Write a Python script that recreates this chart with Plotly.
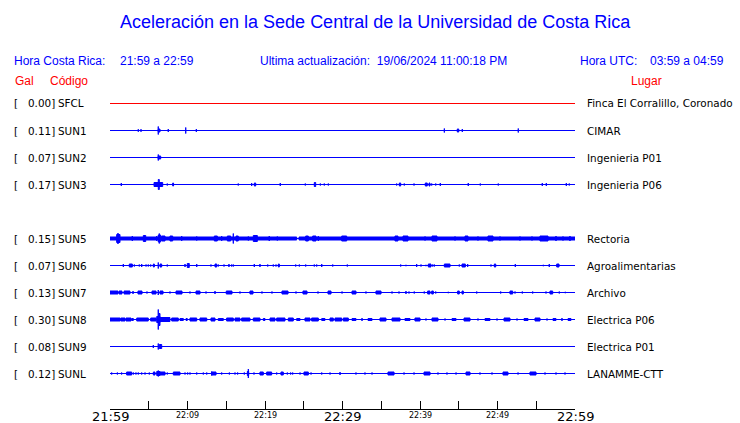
import plotly.graph_objects as go

# ---------------- data ----------------
TITLE = "Aceleración en la Sede Central de la Universidad de Costa Rica"
HORA_CR = "21:59 a 22:59"
HORA_UTC = "03:59 a 04:59"
ACTUALIZACION = "19/06/2024 11:00:18 PM"

# stations in display order (None = empty slot, SUN4 not reporting)
CODES = ["SFCL", "SUN1", "SUN2", "SUN3", None, "SUN5", "SUN6", "SUN7", "SUN8", "SUN9", "SUNL"]
GAL = [0.00, 0.11, 0.07, 0.17, None, 0.15, 0.07, 0.13, 0.30, 0.08, 0.12]
PLACES = ["Finca El Corralillo, Coronado", "CIMAR", "Ingenieria P01", "Ingenieria P06", None,
          "Rectoria", "Agroalimentarias", "Archivo", "Electrica P06", "Electrica P01", "LANAMME-CTT"]

# time axis: minutes after 21:59
TICK_MINUTES = [0, 5, 10, 15, 20, 25, 30, 35, 40, 45, 50, 55, 60]
MAJOR_LABELS = {0: "21:59", 30: "22:29", 60: "22:59"}
MINOR_LABELS = {10: "22:09", 20: "22:19", 40: "22:39", 50: "22:49"}

# events per station: (start minute, end minute, relative amplitude)
SFCL_EV = []
SUN1_EV = [(3.65, 3.65, 1.3), (4.0, 4.0, 1.3), (6.23, 6.23, 4), (6.23, 6.45, 1.5), (7.52, 7.52, 1.5),
           (9.77, 9.77, 3), (11.14, 11.14, 1.5), (43.14, 43.14, 2), (44.81, 45.0, 1.5),
           (45.46, 45.46, 1.5), (52.68, 52.68, 2)]
SUN2_EV = [(6.23, 6.23, 3), (6.23, 6.54, 1.5)]
SUN3_EV = [(1.46, 1.46, 1.5), (5.68, 6.8, 2), (6.23, 6.36, 5), (7.39, 7.39, 1), (8.09, 8.2, 1.5),
           (16.55, 16.55, 1), (18.28, 18.28, 1.5), (18.62, 18.8, 1.5), (21.97, 21.97, 1.5),
           (25.2, 25.2, 1), (26.36, 26.54, 2), (27.14, 27.14, 1), (27.65, 27.65, 1), (28.17, 28.17, 1),
           (36.99, 36.99, 1), (37.33, 37.51, 1.5), (37.97, 37.97, 1), (39.23, 39.23, 1),
           (40.68, 40.94, 1.5), (41.16, 41.29, 1.5), (41.51, 41.51, 1), (42.03, 42.03, 1),
           (42.62, 42.62, 1.5), (46.23, 46.23, 1.5), (47.78, 47.78, 1), (50.1, 50.1, 1),
           (55.78, 55.78, 1.5), (56.3, 56.3, 1.5), (58.88, 58.88, 1.5), (59.26, 59.26, 1)]
SUN5_EV = [(0.0, 24.09, 1.5), (24.39, 60.0, 1.5),
           (0.86, 1.29, 4), (1.03, 1.03, 5.5), (2.88, 2.88, 2.5), (4.3, 4.61, 3), (6.03, 6.03, 2.5),
           (6.23, 6.54, 3.5), (6.36, 6.36, 5), (6.67, 7.1, 2.5), (7.74, 8.09, 2.5), (9.25, 9.25, 2.5),
           (11.19, 11.19, 2), (13.46, 13.85, 2.5), (14.41, 14.41, 2.5), (15.14, 15.57, 2.5),
           (15.91, 15.91, 5), (16.26, 16.55, 2.5), (17.85, 17.85, 2), (18.49, 19.01, 3),
           (20.55, 20.55, 2.5), (21.59, 21.59, 2), (25.25, 25.59, 2.5), (26.15, 26.58, 2.5),
           (26.88, 26.88, 2.5), (29.9, 30.54, 2.5), (36.77, 37.16, 2.5), (37.81, 38.45, 2.5),
           (40.65, 40.65, 2), (41.55, 42.19, 2.5), (44.52, 44.52, 2), (45.81, 46.19, 2.5),
           (47.48, 47.48, 2), (48.77, 49.42, 2.5), (50.32, 50.32, 2), (52.9, 52.9, 2),
           (54.45, 54.45, 2), (55.48, 56.52, 2.5), (57.55, 57.55, 2.5), (58.45, 58.45, 2),
           (59.35, 59.35, 2.5)]
SUN6_EV = [(1.72, 1.72, 1.5), (2.49, 2.88, 1.5), (3.14, 3.14, 1), (3.78, 3.78, 1), (4.09, 4.09, 1.5),
           (4.65, 4.65, 1), (4.94, 4.94, 1), (5.25, 5.25, 1), (5.59, 5.72, 1.5), (6.23, 6.23, 3),
           (6.45, 6.67, 1.5), (7.39, 7.39, 1), (9.68, 9.68, 1.5), (9.97, 10.23, 2), (11.19, 11.19, 1.5),
           (13.03, 13.03, 1), (13.55, 13.77, 1.5), (13.97, 13.97, 1), (14.71, 14.71, 1),
           (15.35, 15.35, 1.5), (15.7, 15.7, 1), (15.91, 15.91, 1), (18.62, 18.62, 1.5),
           (19.35, 19.35, 1.5), (20.35, 20.35, 1), (21.07, 21.07, 1), (21.42, 21.42, 1),
           (21.72, 21.85, 1.5), (23.96, 23.96, 1), (24.43, 24.43, 1), (25.25, 25.25, 1),
           (26.36, 26.36, 1), (26.67, 26.67, 1), (27.32, 27.32, 1.5), (28.74, 28.74, 1),
           (30.62, 30.62, 1), (37.51, 37.51, 1), (38.19, 38.19, 0.7), (39.57, 39.57, 1.5),
           (40.13, 40.13, 1), (40.77, 40.77, 0.7), (41.07, 41.42, 1.5), (41.64, 41.64, 1),
           (41.85, 41.85, 1), (43.14, 43.87, 1.5), (45.07, 45.07, 1), (45.42, 45.85, 1.5),
           (46.15, 46.15, 1.5), (49.16, 49.16, 1), (49.59, 49.77, 1.5), (52.3, 52.3, 1.5),
           (55.91, 55.91, 0.7), (56.68, 56.68, 1.5), (57.64, 57.94, 1.5)]
SUN7_EV = [(0.0, 1.03, 1.5), (1.16, 1.55, 1.5), (1.81, 2.58, 1.5), (2.97, 2.97, 1.5), (3.61, 4.13, 1.5),
           (4.77, 4.77, 1), (5.42, 5.94, 1.5), (6.23, 6.23, 2.5), (6.45, 6.84, 1.5), (7.74, 7.74, 1),
           (8.52, 9.29, 1.5), (10.32, 10.32, 1), (11.1, 11.61, 1.5), (12.39, 12.39, 1),
           (13.55, 13.55, 1.5), (15.0, 15.74, 1.5), (16.77, 16.77, 1), (18.06, 18.45, 1.5),
           (19.61, 19.61, 1), (20.9, 20.9, 1), (22.19, 22.97, 1.5), (24.0, 24.0, 1), (24.9, 25.42, 1.5),
           (26.84, 26.84, 1), (28.13, 28.52, 1.5), (29.94, 29.94, 1), (31.23, 31.74, 1.5),
           (33.03, 33.03, 1), (34.32, 34.97, 1.5), (36.39, 36.39, 1), (37.29, 37.29, 1),
           (38.19, 38.19, 1.5), (38.58, 38.58, 1), (39.26, 39.26, 1), (40.55, 40.55, 1),
           (40.99, 41.29, 1.5), (41.51, 41.72, 1.5), (42.03, 42.03, 1), (43.65, 43.65, 0.7),
           (44.86, 45.07, 1.5), (45.42, 45.59, 1.5), (47.32, 47.32, 1), (50.41, 50.41, 1),
           (51.61, 51.96, 1.5), (52.26, 52.26, 1), (53.2, 53.2, 1), (54.54, 54.54, 1), (56.26, 56.26, 1),
           (56.77, 57.12, 1.5), (57.97, 57.97, 1), (58.75, 58.75, 0.7)]
SUN8_EV = [(0.0, 1.29, 1.5), (1.38, 1.94, 1.5), (2.06, 2.71, 1.5), (2.8, 3.01, 1), (3.45, 4.94, 1.5),
           (5.25, 5.94, 1.5), (6.03, 6.45, 3), (6.23, 6.23, 10), (6.32, 6.45, 6), (6.45, 7.74, 2),
           (7.96, 8.81, 1.5), (9.03, 9.46, 1), (9.81, 9.97, 1), (10.32, 11.19, 1.5), (11.61, 12.48, 1.5),
           (13.03, 13.55, 1.5), (13.97, 14.62, 1), (15.05, 15.91, 1.5), (16.13, 16.77, 1.5),
           (16.99, 18.06, 1.5), (18.49, 19.35, 1.5), (19.78, 20.0, 1), (20.65, 21.29, 1.5),
           (21.51, 22.58, 1.5), (23.01, 23.65, 1.5), (24.09, 24.52, 1), (25.16, 25.81, 1.5),
           (26.02, 26.88, 1.5), (27.32, 27.74, 1), (28.39, 28.81, 1.5), (29.03, 29.9, 1.5),
           (30.1, 30.75, 1.5), (31.23, 31.74, 1), (32.52, 32.52, 1.5), (33.29, 33.81, 1),
           (34.84, 35.61, 1.5), (36.39, 37.42, 1.5), (38.06, 38.71, 1), (39.35, 40.0, 1.5),
           (40.77, 40.77, 1), (41.55, 42.32, 1.5), (43.23, 43.23, 1), (44.13, 44.65, 1),
           (45.68, 46.45, 1.5), (47.48, 47.48, 1), (48.39, 49.03, 1), (49.94, 49.94, 1),
           (50.84, 51.61, 1.5), (52.52, 52.52, 1), (53.42, 53.94, 1), (54.84, 55.48, 1.5),
           (56.39, 56.39, 1), (57.16, 57.55, 1), (58.32, 58.32, 1.5), (59.1, 59.48, 1)]
SUN9_EV = [(5.59, 5.59, 1.5), (6.23, 6.23, 3), (6.36, 6.67, 2)]
SUNL_EV = [(0.22, 0.22, 1), (0.95, 0.95, 1), (1.5, 1.5, 1), (2.15, 2.8, 1.5), (3.01, 3.01, 1),
           (3.35, 3.35, 1), (3.65, 3.65, 1), (4.09, 4.09, 1), (4.52, 4.52, 1), (5.07, 5.07, 1),
           (5.59, 5.81, 1.5), (6.03, 6.45, 2), (6.23, 6.23, 3), (6.45, 7.1, 1.5), (7.39, 7.39, 1),
           (8.17, 9.03, 1.5), (9.68, 9.68, 1), (10.02, 10.02, 1), (10.32, 10.32, 1), (11.19, 11.19, 1),
           (12.04, 12.04, 1), (12.48, 12.48, 1), (13.12, 13.68, 1.5), (13.12, 13.12, 2),
           (14.41, 14.41, 1), (15.4, 15.4, 1), (16.13, 16.13, 1), (16.47, 16.47, 1), (17.33, 17.33, 1),
           (17.72, 17.9, 2), (17.85, 17.85, 4.5), (18.58, 18.58, 1), (19.35, 19.78, 1.5),
           (20.22, 20.86, 1.5), (21.51, 21.51, 1), (22.06, 22.36, 1.5), (22.88, 22.88, 1),
           (23.31, 23.31, 1), (23.57, 23.57, 1), (24.52, 24.52, 1), (25.03, 25.59, 1.5),
           (25.94, 25.94, 1), (27.32, 27.32, 1), (28.39, 28.39, 1), (29.68, 29.68, 1.5),
           (31.74, 31.74, 1), (32.9, 32.9, 1), (33.81, 33.81, 1), (35.87, 36.65, 1.5), (37.94, 37.94, 1),
           (39.23, 39.23, 1), (40.52, 41.29, 1.5), (42.32, 42.32, 1), (43.48, 43.48, 1),
           (44.65, 44.65, 1), (45.94, 46.45, 1.5), (47.74, 47.74, 1), (49.29, 49.29, 1),
           (50.71, 51.35, 1.5), (52.65, 52.65, 1), (54.19, 54.97, 1.5), (56.13, 56.13, 1),
           (57.55, 57.55, 1), (58.71, 58.71, 1)]
EVENTS = [SFCL_EV, SUN1_EV, SUN2_EV, SUN3_EV, None, SUN5_EV, SUN6_EV, SUN7_EV, SUN8_EV, SUN9_EV, SUNL_EV]

# ---------------- styling / layout ----------------
W, H = 740, 423
X0_PX, X1_PX = 110, 575        # trace area
AXIS_PX = 409                  # x-axis line position
ROW0_PX, ROW_STEP = 103.5, 27  # first row centre / spacing
AMP_SCALE = 1.0 / ROW_STEP     # relative amplitude -> row units
BLUE, RED = "#0000FF", "#FF0000"


def px_x(px):
    return px / W


def px_y(py):
    return 1 - py / H


fig = go.Figure()

for i, code in enumerate(CODES):
    if code is None:
        continue
    color = RED if code == "SFCL" else BLUE
    fig.add_trace(go.Scatter(x=[TICK_MINUTES[0], TICK_MINUTES[-1]], y=[i, i], mode="lines",
                             line=dict(color=color, width=1), hoverinfo="skip", showlegend=False))
    ev = EVENTS[i]
    if ev:
        xs, ys = [], []
        for t0, t1, a in ev:
            d = a * AMP_SCALE
            xs += [t0, t1, t1, t0, t0, None]
            ys += [i - d, i - d, i + d, i + d, i - d, None]
        fig.add_trace(go.Scatter(x=xs, y=ys, mode="lines", fill="toself", fillcolor=color,
                                 line=dict(color=color, width=1), hoverinfo="skip",
                                 showlegend=False, connectgaps=False))

y_bottom = (AXIS_PX - ROW0_PX) / ROW_STEP
y_top = -ROW0_PX / ROW_STEP

fig.update_layout(
    width=W, height=H, margin=dict(l=0, r=0, t=0, b=0),
    paper_bgcolor="white", plot_bgcolor="white",
    xaxis=dict(domain=[px_x(X0_PX), px_x(X1_PX)], range=[TICK_MINUTES[0], TICK_MINUTES[-1]],
               showgrid=False, zeroline=False, showline=True, linecolor="black", linewidth=1,
               ticks="inside", ticklen=8, tickcolor="black", tickwidth=1,
               tickvals=TICK_MINUTES, showticklabels=False, fixedrange=True),
    yaxis=dict(domain=[1 - AXIS_PX / H, 1], range=[y_bottom, y_top], visible=False, fixedrange=True),
    showlegend=False,
)

ann = []


def txt(text, px, py, size, color, xanchor="left", family="Liberation Sans, Arial, sans-serif"):
    ann.append(dict(text=text, x=px_x(px), y=px_y(py), xref="paper", yref="paper",
                    xanchor=xanchor, yanchor="middle", showarrow=False,
                    borderpad=0, borderwidth=0,
                    font=dict(family=family, size=size, color=color)))


DV = "DejaVu Sans, sans-serif"
LBL = 10.4
txt(TITLE, 375, 22, 18, BLUE, "center")
txt("Hora Costa Rica:", 14, 61, 12, BLUE)
txt(HORA_CR, 120, 61, 12, BLUE)
txt("Ultima actualización:  " + ACTUALIZACION, 260, 61, 12, BLUE)
txt("Hora UTC:", 580, 61, 12, BLUE)
txt(HORA_UTC, 650, 61, 12, BLUE)
txt("Gal", 15, 81, 12, RED)
txt("Código", 50, 81, 12, RED)
txt("Lugar", 631, 81, 12, RED)

for i, code in enumerate(CODES):
    if code is None:
        continue
    py = ROW0_PX + ROW_STEP * i
    txt("[", 14, py, LBL, "black", family=DV)
    txt(f"{GAL[i]:.2f}]", 55, py, LBL, "black", "right", family=DV)
    txt(code, 58, py, LBL, "black", family=DV)
    txt(PLACES[i], 587, py, LBL, "black", family=DV)

x_px_per_min = (X1_PX - X0_PX) / (TICK_MINUTES[-1] - TICK_MINUTES[0])
for m, lab in MAJOR_LABELS.items():
    txt(lab, X0_PX + m * x_px_per_min, 416, 13, "black", "center", family=DV)
for m, lab in MINOR_LABELS.items():
    txt(lab, X0_PX + m * x_px_per_min, 415, 8, "black", "center", family=DV)

fig.update_layout(annotations=ann)
fig.write_html("out.html", config={"displayModeBar": False, "staticPlot": True},
               post_script="document.body.style.margin='0';document.body.style.overflow='hidden';")
